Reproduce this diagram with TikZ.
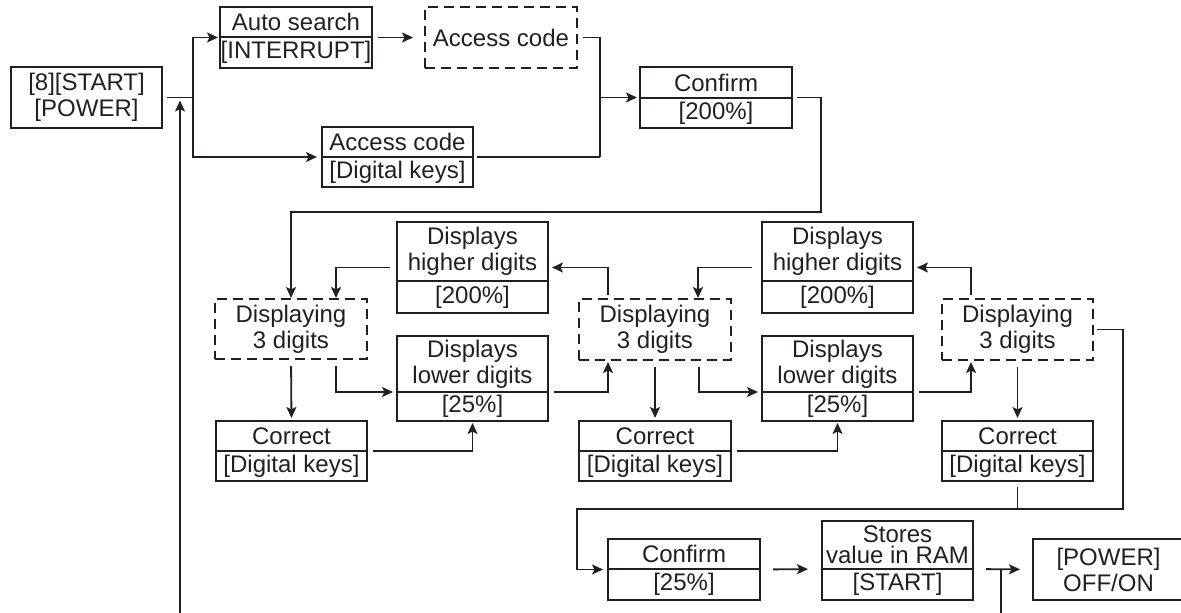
\documentclass[tikz,border=0pt]{standalone}
\usepackage{fontspec}
\setmainfont{Liberation Sans}
\usetikzlibrary{arrows.meta,calc,fit}
\definecolor{ink}{RGB}{35,31,32}
\tikzset{
  boxsty/.style={draw=ink, line width=0.9pt, inner sep=0pt, outer sep=0pt},
  dashbox/.style={boxsty, dash pattern=on 5pt off 3pt},
  txt/.style={text=ink, font=\fontsize{12}{13}\selectfont, align=center, inner sep=0pt},
  conn/.style={draw=ink, line width=0.9pt},
  arr/.style={conn, -{Stealth[length=5.5pt,width=5pt,inset=1.2pt]}},
}
% name, x1, y1, x2, ydiv, y2, top text, bottom text
\newcommand\twobox[8]{%
  \node[boxsty, fit={(#2,#3) (#4,#6)}] (#1) {};
  \coordinate (#1-w) at (#2,#5);
  \coordinate (#1-e) at (#4,#5);
  \draw[boxsty] (#1-w) -- (#1-e);
  \node[txt] (#1-t) at ($(#2,#3)!0.5!(#4,#5)$) {#7};
  \node[txt] (#1-b) at ($(#2,#5)!0.5!(#4,#6)$) {#8};
}
% name, style, x1, y1, x2, y2, text
\newcommand\onebox[7]{%
  \node[#2, fit={(#3,#4) (#5,#6)}] (#1) {};
  \node[txt] (#1-t) at (#1.center) {#7};
}
\begin{document}
\begin{tikzpicture}[x=0.5pt,y=-0.5pt]
\useasboundingbox (0,0) rectangle (1181,613);
\clip (0,0) rectangle (1181,613);

% top row
\onebox{start}{boxsty}{11}{67}{162}{128}{[8][START]\\\relax[POWER]}
\twobox{auto}{220}{7}{372}{37}{68}{Auto search}{[INTERRUPT]}
\onebox{acc1}{dashbox}{425}{7}{577}{68}{Access code}
\twobox{acc2}{322}{127}{473}{157}{187}{Access code}{[Digital keys]}
\twobox{conf1}{640}{67}{792}{98}{128}{Confirm}{[200\%]}

% group 1
\onebox{d1}{dashbox}{215}{299}{367}{359}{Displaying\\3 digits}
\twobox{hi1}{397}{222}{548}{281}{313}{Displays\\higher digits}{[200\%]}
\twobox{lo1}{397}{336}{548}{392}{421}{Displays\\lower digits}{[25\%]}
\twobox{c1}{216}{421}{367}{451}{481}{Correct}{[Digital keys]}

% group 2
\onebox{d2}{dashbox}{579}{299}{731}{360}{Displaying\\3 digits}
\twobox{hi2}{762}{222}{913}{281}{313}{Displays\\higher digits}{[200\%]}
\twobox{lo2}{762}{336}{913}{392}{421}{Displays\\lower digits}{[25\%]}
\twobox{c2}{579}{421}{731}{451}{481}{Correct}{[Digital keys]}

% group 3
\onebox{d3}{dashbox}{942}{299}{1093}{360}{Displaying\\3 digits}
\twobox{c3}{942}{421}{1093}{451}{481}{Correct}{[Digital keys]}

% bottom row
\twobox{conf2}{608}{539}{760}{569}{600}{Confirm}{[25\%]}
\twobox{stores}{822}{521}{973}{569}{600}{Stores\\[-2.5pt]value in RAM}{[START]}
\onebox{power}{boxsty}{1033}{539}{1184}{600}{[POWER]\\OFF/ON}

% connectors: top
\coordinate (j0) at (193,97.5);
\coordinate (j4) at (180,97.5);
\coordinate (b1) at (180,613);
\draw[conn, shorten <=2.5pt] (start.east) -- (j0);
\draw[arr, shorten >=1pt] (j0) |- (auto.west);
\draw[arr, shorten >=2.5pt] (j0) |- (acc2.west);
\draw[arr, shorten >=1.5pt] (b1) -- (j4);
\draw[arr, shorten <=3pt, shorten >=6pt] (auto.east) -- (acc1.west);
\coordinate (j2) at (600,157);
\draw[conn, shorten <=3pt] (acc1.east) -| (j2);
\draw[conn, shorten <=2pt] (acc2.east) -- (j2);
\draw[arr, shorten >=1.5pt] (j2 |- conf1.west) -- (conf1.west);
\coordinate (t1) at (821,212);
\draw[arr, shorten <=2.5pt, shorten >=0.5pt] (conf1.east) -| (t1) -| (d1.north);

% group 1 connectors
\draw[arr, shorten <=3.5pt, shorten >=0.5pt] (hi1.west) -| ($(d1.north east)+(-31,0)$);
\draw[arr, shorten <=2pt, shorten >=2pt] ($(d2.north west)+(29,0)$) |- (hi1.east);
\draw[arr, shorten <=3.5pt, shorten >=2pt] ($(d1.south east)+(-31,0)$) |- (lo1-w);
\draw[arr, shorten <=3.5pt, shorten >=1.5pt] (d1.south) -- (c1.north);
\draw[arr, shorten <=3pt, shorten >=1pt] (c1.east) -| (lo1.south);
\draw[arr, shorten <=3pt, shorten >=1pt] (lo1-e) -| ($(d2.south west)+(29,0)$);

% group 2 connectors
\draw[arr, shorten <=5pt, shorten >=0.5pt] (hi2.west) -| ($(d2.north east)+(-33,0)$);
\draw[arr, shorten <=2pt, shorten >=2pt] ($(d3.north west)+(29,0)$) |- (hi2.east);
\draw[arr, shorten <=3.5pt, shorten >=2pt] ($(d2.south east)+(-32,0)$) |- (lo2-w);
\draw[arr, shorten <=3.5pt, shorten >=1.5pt] (d2.south) -- (c2.north);
\draw[arr, shorten <=3pt, shorten >=1pt] (c2.east) -| (lo2.south);
\draw[arr, shorten <=3pt, shorten >=1pt] (lo2-e) -| ($(d3.south west)+(29,0)$);

% group 3 connectors
\draw[arr, shorten <=3.5pt, shorten >=1.5pt] (d3.south) -- (c3.north);
\coordinate (t2) at (1123,509);
\coordinate (t3) at (577,569.5);
\draw[arr, shorten <=2pt, shorten >=2.5pt] (d3.east) -| (t2) -| (t3) -- (conf2.west);
\draw[conn, shorten <=3pt] (c3.south) -- (c3.south |- t2);

% bottom connectors
\draw[arr, shorten <=6.5pt, shorten >=7pt] (conf2.east) -- (stores-w);
\draw[arr, shorten <=6.5pt, shorten >=6.5pt] (stores-e) -- (power.west);
\coordinate (b2) at (1001,613);
\draw[conn] (b2 |- stores-e) -- (b2);
\end{tikzpicture}
\end{document}
